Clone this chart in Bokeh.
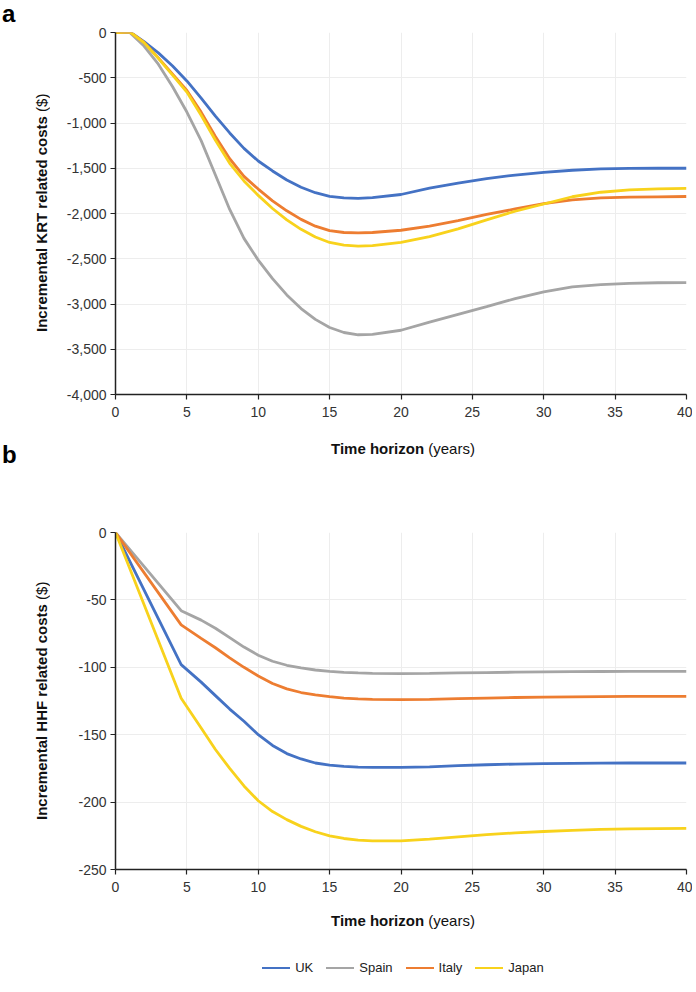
from bokeh.plotting import figure
from bokeh.models import Range1d, FixedTicker, NumeralTickFormatter, ColumnDataSource, Div
from bokeh.layouts import column, row
from bokeh.embed import file_html
from bokeh.resources import INLINE

countries = ["UK", "Spain", "Italy", "Japan"]

# Panel a: incremental KRT related costs ($)
years_krt = [0, 1, 2, 3, 4, 5, 6, 7, 8, 9, 10, 11, 12, 13, 14, 15, 16, 17, 18,
             20, 22, 24, 26, 28, 30, 32, 34, 36, 38, 40]
uk_krt = [0, 8, -100, -225, -370, -535, -725, -925, -1110, -1280, -1420, -1530,
          -1630, -1710, -1770, -1810, -1828, -1832, -1825, -1790, -1720, -1665,
          -1615, -1575, -1545, -1522, -1507, -1501, -1500, -1500]
spain_krt = [0, 0, -150, -350, -600, -879, -1195, -1575, -1955, -2275, -2515,
             -2720, -2900, -3050, -3170, -3260, -3315, -3340, -3335, -3290,
             -3200, -3115, -3030, -2940, -2866, -2810, -2785, -2772, -2765, -2764]
italy_krt = [0, 8, -110, -280, -460, -640, -880, -1150, -1395, -1590, -1730,
             -1860, -1970, -2065, -2140, -2190, -2210, -2215, -2210, -2185,
             -2140, -2080, -2010, -1950, -1890, -1850, -1828, -1820, -1816, -1812]
japan_krt = [0, 8, -112, -285, -470, -658, -915, -1190, -1445, -1640, -1800,
             -1945, -2070, -2175, -2260, -2320, -2350, -2360, -2355, -2318,
             -2255, -2170, -2070, -1975, -1895, -1815, -1765, -1740, -1728, -1723]

# Panel b: incremental HHF related costs ($)
years_hhf = [0, 4.6, 6, 7, 8, 9, 10, 11, 12, 13, 14, 15, 16, 17, 18, 20, 22, 24,
             26, 28, 30, 32, 34, 36, 38, 40]
uk_hhf = [0, -98, -111, -121, -131, -140, -150, -158, -164, -168, -171, -172.5,
          -173.5, -174, -174.2, -174.3, -173.8, -173, -172.3, -171.8, -171.4,
          -171.2, -171.1, -171, -171, -171]
spain_hhf = [0, -58, -65, -71, -78, -85, -91, -95.5, -98.5, -100.5, -102, -103,
             -103.8, -104.2, -104.5, -104.7, -104.5, -104.2, -103.9, -103.6,
             -103.4, -103.2, -103.1, -103, -103, -103]
italy_hhf = [0, -68.5, -78.5, -85.5, -93, -100, -106.5, -112, -116, -118.7,
             -120.5, -121.8, -122.8, -123.4, -123.8, -124, -123.8, -123.3,
             -122.8, -122.4, -122.1, -121.9, -121.7, -121.6, -121.5, -121.5]
japan_hhf = [0, -123, -145, -161, -175, -188, -199, -207, -213, -218, -222, -225,
             -227, -228.2, -228.7, -228.8, -227.5, -225.8, -224.2, -222.8,
             -221.8, -221, -220.3, -219.9, -219.7, -219.5]

x_ticks = [0, 5, 10, 15, 20, 25, 30, 35, 40]
krt_ticks = [0, -500, -1000, -1500, -2000, -2500, -3000, -3500, -4000]
hhf_ticks = [0, -50, -100, -150, -200, -250]

colors = {"UK": "#4472C4", "Spain": "#A5A5A5", "Italy": "#ED7D31", "Japan": "#F8D21C"}
FONT = "Liberation Sans"
LEFT_W = 60
FIG_W = 632
TOTAL_W = LEFT_W + FIG_W


def style(p, yticks, fmt):
    p.xaxis.ticker = FixedTicker(ticks=x_ticks)
    p.yaxis.ticker = FixedTicker(ticks=yticks)
    p.yaxis.formatter = NumeralTickFormatter(format=fmt)
    for ax in (p.xaxis[0], p.yaxis[0]):
        ax.axis_line_color = "#222222"
        ax.axis_line_width = 1.5
        ax.major_tick_line_color = "#222222"
        ax.major_tick_line_width = 1.2
        ax.major_tick_in = 0
        ax.major_tick_out = 5
        ax.minor_tick_line_color = None
        ax.major_label_text_font = FONT
        ax.major_label_text_font_size = "14px"
        ax.major_label_text_color = "#333333"
    p.xaxis.major_label_standoff = 7
    p.yaxis.major_label_standoff = 4
    p.xgrid.grid_line_color = "#EDEDED"
    p.ygrid.grid_line_color = "#EDEDED"
    p.outline_line_color = None
    p.background_fill_color = "white"
    p.border_fill_color = "white"


LETTER_STYLE = (f"font-family:'{FONT}';font-weight:bold;font-size:24px;"
                "line-height:normal;color:#000;")


def left_div(height, label, frame_top, frame_h, letter=None):
    html = f'<div style="position:relative;width:{LEFT_W}px;height:{height}px;">'
    if letter:
        html += (f'<div style="position:absolute;left:2px;top:0px;{LETTER_STYLE}">'
                 f'{letter}</div>')
    html += (f'<div style="position:absolute;left:33px;top:{frame_top}px;'
             f'width:18px;height:{frame_h}px;writing-mode:vertical-rl;'
             'transform:rotate(180deg);text-align:center;white-space:nowrap;'
             f"font-family:'{FONT}';font-size:15px;line-height:18px;color:#111;\">"
             f'<b>{label}</b> ($)</div></div>')
    return Div(text=html, width=LEFT_W, height=height, margin=0)


def title_div(height, top, letter=None):
    html = f'<div style="position:relative;width:{TOTAL_W}px;height:{height}px;">'
    if letter:
        html += (f'<div style="position:absolute;left:2px;top:11px;{LETTER_STYLE}">'
                 f'{letter}</div>')
    html += (f'<div style="position:absolute;left:115px;width:576px;top:{top}px;'
             f"text-align:center;white-space:nowrap;font-family:'{FONT}';"
             'font-size:15px;line-height:18px;color:#111;">'
             '<b>Time horizon</b> (years)</div></div>')
    return Div(text=html, width=TOTAL_W, height=height, margin=0)


# ---------- Panel a ----------
pa = figure(width=FIG_W, height=430, output_backend="svg", toolbar_location=None,
            x_range=Range1d(0, 40), y_range=Range1d(-4000, 0),
            min_border_left=55, min_border_right=6, min_border_top=32,
            min_border_bottom=36)
style(pa, krt_ticks, "0,0")
krt_series = {"UK": uk_krt, "Spain": spain_krt, "Italy": italy_krt, "Japan": japan_krt}
for c in countries:
    src = ColumnDataSource(dict(x=years_krt, y=krt_series[c]))
    pa.line("x", "y", source=src, line_color=colors[c], line_width=2.8)

# ---------- Panel b ----------
pb = figure(width=FIG_W, height=428, output_backend="svg", toolbar_location=None,
            x_range=Range1d(0, 40), y_range=Range1d(-250, 0),
            min_border_left=55, min_border_right=6, min_border_top=60,
            min_border_bottom=31)
style(pb, hhf_ticks, "0")
hhf_series = {"UK": uk_hhf, "Spain": spain_hhf, "Italy": italy_hhf, "Japan": japan_hhf}
for c in countries:
    src = ColumnDataSource(dict(x=years_hhf, y=hhf_series[c]))
    pb.line("x", "y", source=src, line_color=colors[c], line_width=2.8)

# ---------- Legend ----------
leg_items = ""
for c in countries:
    leg_items += ('<span style="display:inline-flex;align-items:center;margin:0 6.5px;">'
                  f'<span style="display:inline-block;width:28px;height:0;'
                  f'border-top:2.6px solid {colors[c]};margin-right:5px;"></span>'
                  f'<span>{c}</span></span>')
legend_html = (f'<div style="position:relative;width:{TOTAL_W}px;height:42px;">'
               '<div style="position:absolute;left:115px;width:576px;top:14px;'
               f"text-align:center;white-space:nowrap;font-family:'{FONT}';"
               f'font-size:13px;line-height:18px;color:#222;">{leg_items}</div></div>')
legend_div = Div(text=legend_html, width=TOTAL_W, height=42, margin=0)

layout = column(
    row(left_div(430, "Incremental KRT related costs", 32, 362, "a"), pa),
    title_div(42, 10, "b"),
    row(left_div(428, "Incremental HHF related costs", 60, 337), pb),
    title_div(42, 12),
    legend_div,
)
open("out.html", "w").write(file_html(layout, INLINE))
